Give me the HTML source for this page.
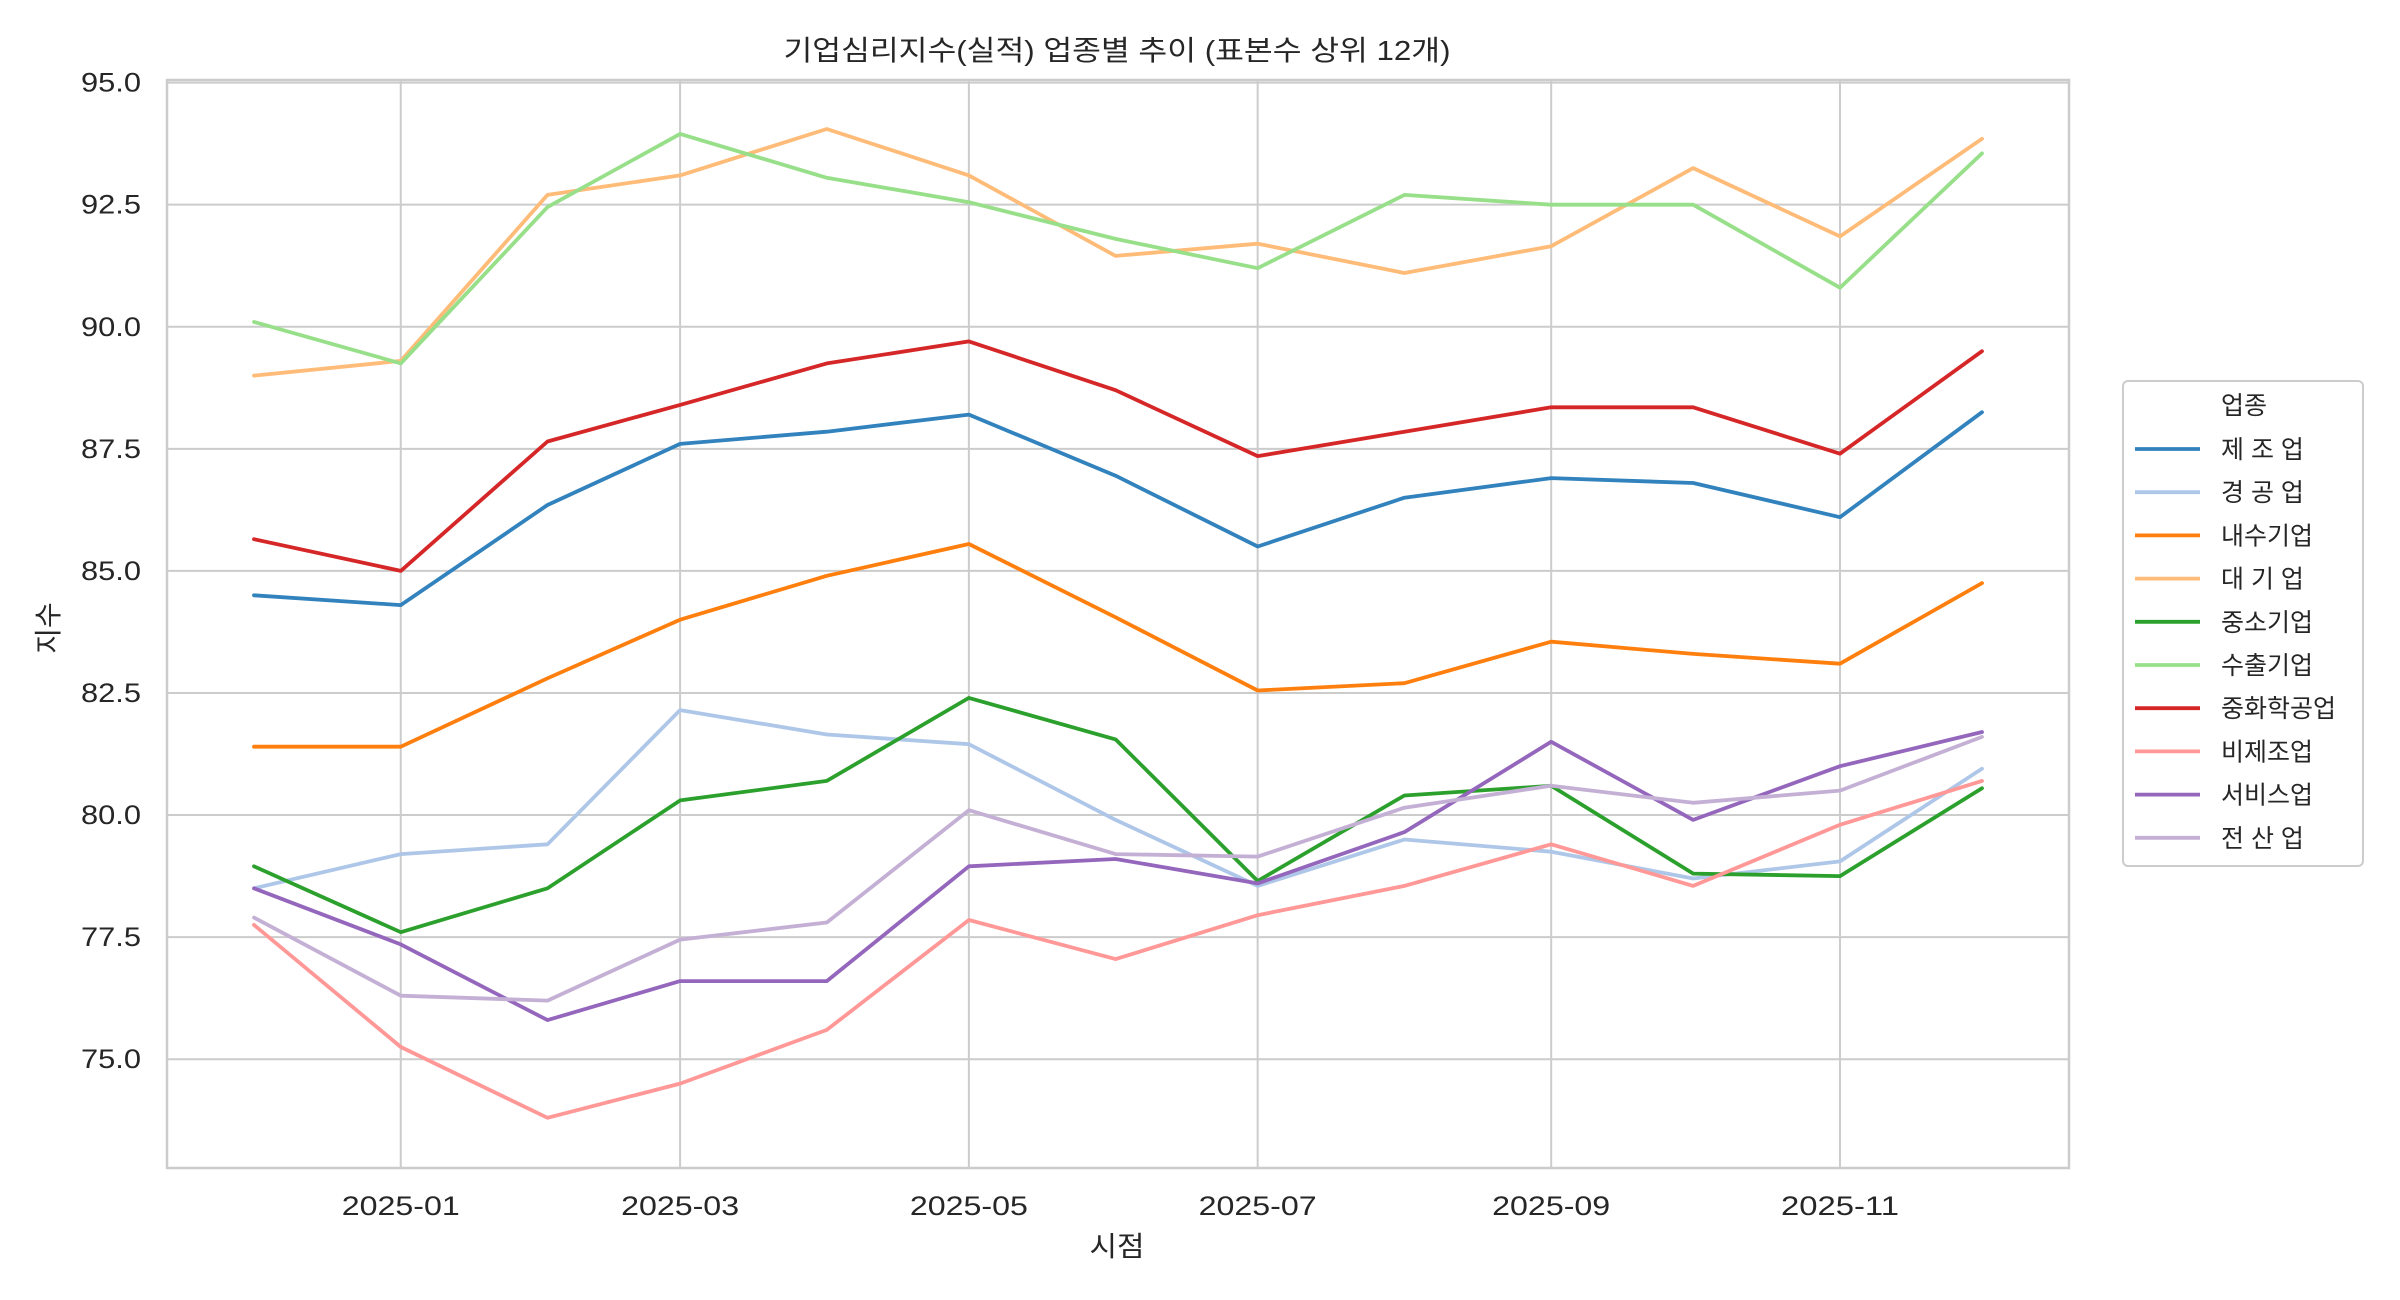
<!DOCTYPE html>
<html><head><meta charset="utf-8"><style>
html,body{margin:0;padding:0;background:#fff}
svg{display:block}
text{font-family:"Liberation Sans","Noto Sans CJK KR",sans-serif;fill:#262626}
</style></head><body>
<svg id="c" width="2400" height="1300" xmlns="http://www.w3.org/2000/svg">
<rect width="2400" height="1300" fill="#fff"/>
<g id="grid"></g>
<rect x="167" y="80" width="1902" height="1088" fill="none" stroke="#cccccc" stroke-width="2.5"/>
<g id="series"></g>
<text x="1117" y="60" font-size="28" text-anchor="middle" textLength="667" lengthAdjust="spacingAndGlyphs">기업심리지수(실적) 업종별 추이 (표본수 상위 12개)</text>
<text x="1117" y="1256" font-size="28" text-anchor="middle" textLength="55" lengthAdjust="spacingAndGlyphs">시점</text>
<text transform="translate(58,628) rotate(-90)" font-size="28" text-anchor="middle">지수</text>
<g id="legend"></g>
</svg>
<script>
var NS="http://www.w3.org/2000/svg";
function el(t,a,p,txt){var e=document.createElementNS(NS,t);for(var k in a)e.setAttribute(k,a[k]);if(txt)e.textContent=txt;p.appendChild(e);return e;}
var g=document.getElementById('grid');
function Y(v){return 82.6+(95-v)*48.83;}
var d0=254,pd=1728/365;
function X(d){return d0+d*pd;}
for(var v=75;v<=95;v+=2.5){var y=Y(v);el('line',{x1:167,x2:2069,y1:y,y2:y,stroke:'#cccccc','stroke-width':2},g);
el('text',{x:141,y:y+9,'font-size':27,'text-anchor':'end',textLength:60,lengthAdjust:'spacingAndGlyphs'},g,v.toFixed(1));}
var ticks=[[31,'2025-01'],[90,'2025-03'],[151,'2025-05'],[212,'2025-07'],[274,'2025-09'],[335,'2025-11']];
ticks.forEach(function(t){var x=X(t[0]);el('line',{x1:x,x2:x,y1:80,y2:1168,stroke:'#cccccc','stroke-width':2},g);
el('text',{x:x,y:1215,'font-size':27,'text-anchor':'middle',textLength:118,lengthAdjust:'spacingAndGlyphs'},g,t[1]);});
var days=[0,31,62,90,121,151,182,212,243,274,304,335,365];
var S=[
['제 조 업','#3182bd',[84.5,84.3,86.35,87.6,87.85,88.2,86.95,85.5,86.5,86.9,86.8,86.1,88.25]],
['경 공 업','#aec7e8',[78.5,79.2,79.4,82.15,81.65,81.45,79.9,78.55,79.5,79.25,78.7,79.05,80.95]],
['내수기업','#ff7f0e',[81.4,81.4,82.8,84.0,84.9,85.55,84.05,82.55,82.7,83.55,83.3,83.1,84.75]],
['대 기 업','#ffbb78',[89.0,89.3,92.7,93.1,94.05,93.1,91.45,91.7,91.1,91.65,93.25,91.85,93.85]],
['중소기업','#2ca02c',[78.95,77.6,78.5,80.3,80.7,82.4,81.55,78.65,80.4,80.6,78.8,78.75,80.55]],
['수출기업','#98df8a',[90.1,89.25,92.45,93.95,93.05,92.55,91.8,91.2,92.7,92.5,92.5,90.8,93.55]],
['중화학공업','#d62728',[85.65,85.0,87.65,88.4,89.25,89.7,88.7,87.35,87.85,88.35,88.35,87.4,89.5]],
['비제조업','#ff9896',[77.75,75.25,73.8,74.5,75.6,77.85,77.05,77.95,78.55,79.4,78.55,79.8,80.7]],
['서비스업','#9467bd',[78.5,77.35,75.8,76.6,76.6,78.95,79.1,78.6,79.65,81.5,79.9,81.0,81.7]],
['전 산 업','#c5b0d5',[77.9,76.3,76.2,77.45,77.8,80.1,79.2,79.15,80.15,80.6,80.25,80.5,81.6]]
];
var sg=document.getElementById('series');
S.forEach(function(s){var pts=s[2].map(function(v,i){return X(days[i]).toFixed(1)+','+Y(v).toFixed(1);}).join(' ');
el('polyline',{points:pts,fill:'none',stroke:s[1],'stroke-width':3.8,'stroke-linejoin':'round','stroke-linecap':'round'},sg);});
var lg=document.getElementById('legend');
el('rect',{x:2123,y:381,width:240,height:485,rx:5,fill:'#fff',stroke:'#cccccc','stroke-width':2},lg);
el('text',{x:2244,y:414,'font-size':25,'text-anchor':'middle'},lg,'업종');
S.forEach(function(s,i){var y=449+i*43.2;
el('line',{x1:2135,x2:2200,y1:y,y2:y,stroke:s[1],'stroke-width':3.8},lg);
el('text',{x:2221,y:y+9,'font-size':25},lg,s[0]);});
</script>
</body></html>
